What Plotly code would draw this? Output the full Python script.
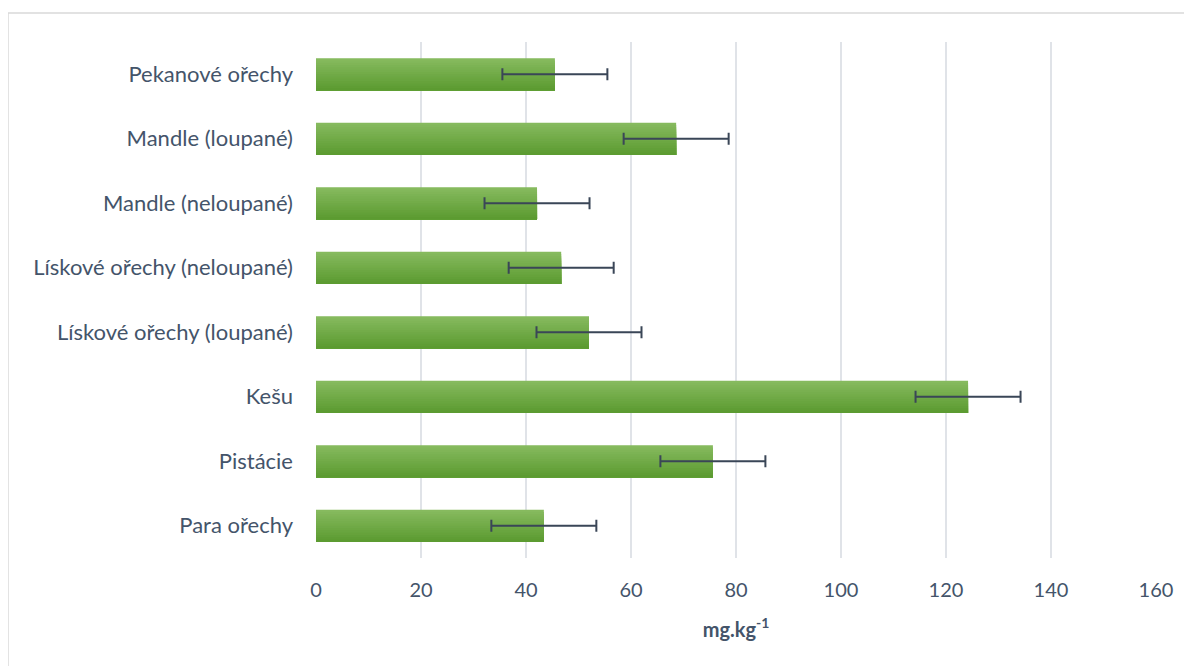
import plotly.graph_objects as go

categories = ["Para ořechy", "Pistácie", "Kešu", "Lískové ořechy (loupané)",
              "Lískové ořechy (neloupané)", "Mandle (neloupané)",
              "Mandle (loupané)", "Pekanové ořechy"]
values = [43.4, 75.6, 124.2, 52.0, 46.7, 42.1, 68.6, 45.5]
errors = [10, 10, 10, 10, 10, 10, 10, 10]
x_ticks = [0, 20, 40, 60, 80, 100, 120, 140, 160]

TEXT = "#44546a"
FONT = "Lato"

# gradient colours, top (light) to bottom (dark)
top = (0x86, 0xBA, 0x5E)
bot = (0x5C, 0x9B, 0x31)
N = 14
BW = 0.5

fig = go.Figure()
for k in range(N):
    t = k / (N - 1)
    c = tuple(round(top[i] + (bot[i] - top[i]) * t) for i in range(3))
    w = BW * (N - k) / N
    fig.add_trace(go.Bar(
        y=categories, x=values, orientation="h",
        marker=dict(color="rgb(%d,%d,%d)" % c, line=dict(width=0)),
        width=[w] * len(values), offset=[-BW / 2] * len(values),
        hoverinfo="skip" if k else "x+y", showlegend=False,
    ))

fig.add_trace(go.Scatter(
    y=categories, x=values, mode="markers",
    marker=dict(size=1, color="rgba(0,0,0,0)"),
    error_x=dict(type="data", array=errors, symmetric=True,
                 color="#3a4657", thickness=2, width=6),
    showlegend=False, hoverinfo="skip",
))

fig.update_layout(
    width=1184, height=658,
    margin=dict(l=308, r=36, t=34, b=108),
    paper_bgcolor="white", plot_bgcolor="white",
    barmode="overlay",
    font=dict(family=FONT, color=TEXT, size=20),
    xaxis=dict(
        range=[0, 160], tickvals=x_ticks, ticktext=[str(v) for v in x_ticks],
        showgrid=True, gridcolor="#e0e3e8", gridwidth=1.5,
        zeroline=False, showline=False, ticks="",
        tickfont=dict(family=FONT, size=20, color=TEXT),
        ticklabelstandoff=18,
        title=dict(text="<b>mg.kg<sup>-1</sup></b>", standoff=22,
                   font=dict(family=FONT, size=20, color=TEXT)),
        fixedrange=True,
    ),
    yaxis=dict(
        type="category", categoryorder="array", categoryarray=categories,
        showgrid=False, zeroline=False, showline=False, ticks="",
        tickfont=dict(family=FONT, size=22, color=TEXT),
        ticklabelstandoff=22,
        range=[-0.5, len(categories) - 0.5],
        fixedrange=True,
    ),
    shapes=[dict(type="rect", xref="paper", yref="paper",
                 x0=-0.3667, x1=1.1, y0=-0.3, y1=1.0562,
                 line=dict(color="#d9d9d9", width=1.5), layer="below")],
)

fig.write_html("out.html")
